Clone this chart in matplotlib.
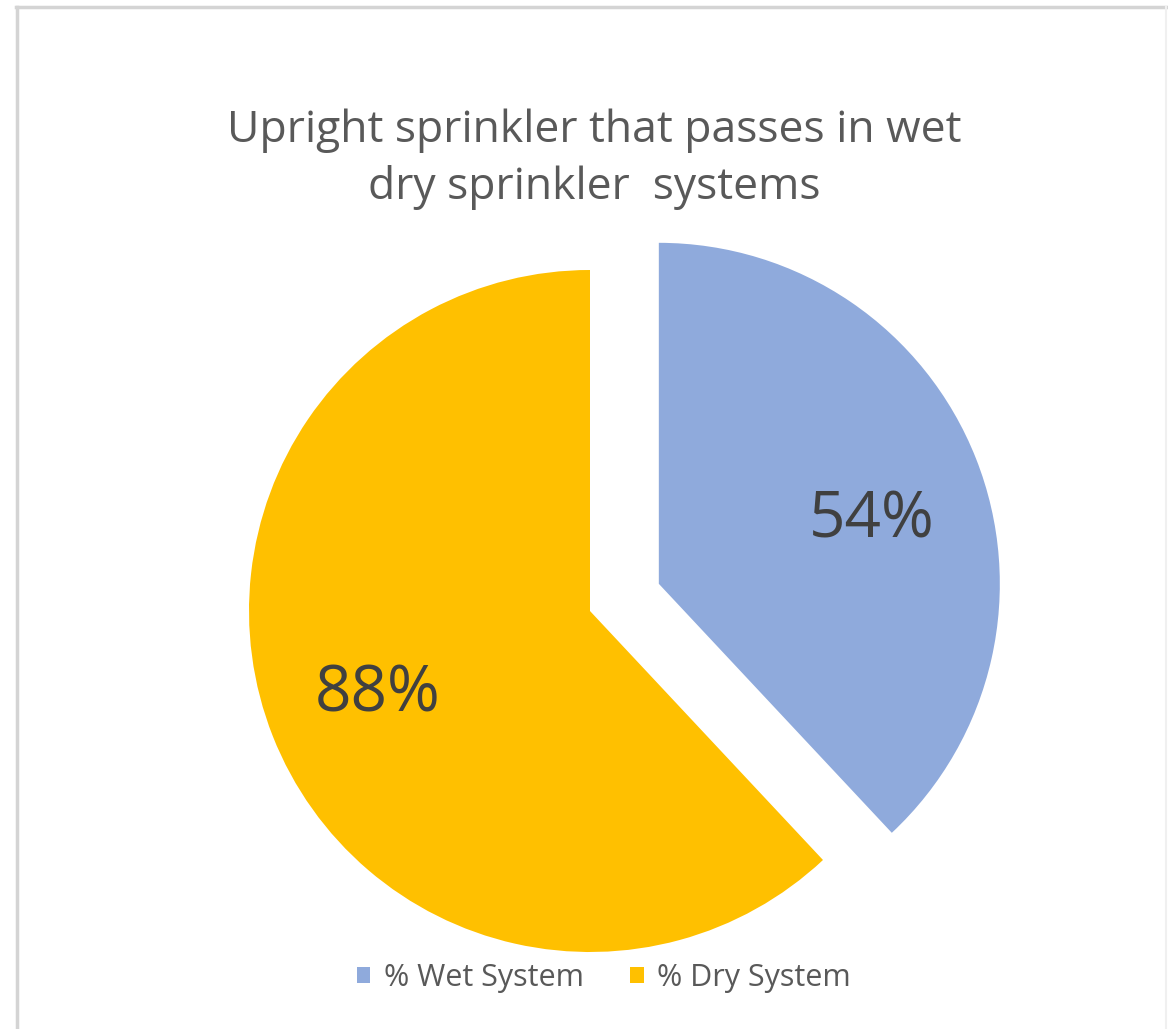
import matplotlib
matplotlib.use("Agg")
import matplotlib.pyplot as plt
from matplotlib.lines import Line2D

# Chart data
categories = ["% Wet System", "% Dry System"]
values = [54, 88]
colors = ["#8FAADC", "#FFC000"]
title = "Upright sprinkler that passes in wet\ndry sprinkler  systems"

W, H = 1168, 1029
fig = plt.figure(figsize=(W / 100, H / 100), dpi=100)
fig.patch.set_facecolor("white")

# Axes spans the whole figure; one data unit equals one pixel
ax = fig.add_axes([0, 0, 1, 1])

total = sum(values)
wedges, texts, autotexts = ax.pie(
    values,
    colors=colors,
    startangle=90,
    counterclock=False,
    explode=[74, 0],
    center=(590, H - 611),
    radius=341,
    autopct=lambda p: f"{p * total / 100:.0f}%",
    pctdistance=0.67,
    textprops=dict(fontsize=46, color="#404040", family="Open Sans"),
    frame=True,
)
ax.set_xlim(0, W)
ax.set_ylim(0, H)
ax.set_aspect("equal")
ax.axis("off")

# Label of the exploded slice sits a little lower in its wedge
autotexts[0].set_position((872, H - 521))

fig.text(0.509, 1 - 159 / H, title, ha="center", va="center",
         fontsize=32, color="#595959", family="Open Sans", linespacing=1.36)

leg = fig.legend(wedges, categories, loc="center", bbox_to_anchor=(0.517, 1 - 978 / H),
                 ncol=2, frameon=False, handlelength=0.45, handleheight=0.45,
                 handletextpad=0.45, columnspacing=1.5,
                 prop=dict(family="Open Sans", size=22))
for t in leg.get_texts():
    t.set_color("#595959")

# Chart-area border
fig.add_artist(Line2D([16 / W, 1], [1 - 7 / H, 1 - 7 / H], transform=fig.transFigure,
                      color="#d4d4d4", lw=2.5))
fig.add_artist(Line2D([17 / W, 17 / W], [0, 1 - 7 / H], transform=fig.transFigure,
                      color="#d4d4d4", lw=2.5))
fig.add_artist(Line2D([1166 / W, 1166 / W], [0, 1 - 7 / H], transform=fig.transFigure,
                      color="#f0f0f0", lw=1.5))

fig.savefig("out.png", dpi=100, facecolor="white")
